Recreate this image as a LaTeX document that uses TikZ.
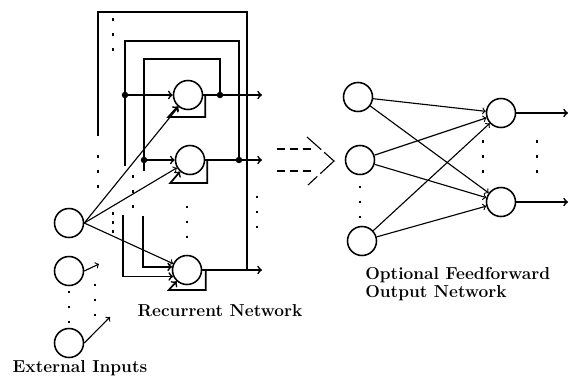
\documentclass[tikz,border=0pt]{standalone}
\usepackage{xcolor}
\begin{document}
\begin{tikzpicture}[x=0.025cm, y=-0.025cm, inner sep=0pt]
		\tikzstyle{every node}=[font=\fontsize{12.3}{12.8}\selectfont\bfseries, align=left]
		\tikzstyle{neuron}=[circle, draw, line width=1.1pt, minimum size=0.725cm]
		\tikzstyle{wire}=[line width=1.2pt]
		\tikzstyle{link}=[thick]
		\tikzstyle{ellip}=[line width=1.8pt, dash pattern=on 1.8pt off 8.87pt]
		\tikzstyle{tightellip}=[line width=1.8pt, dash pattern=on 1.8pt off 4.6pt]
		\useasboundingbox (0,0) rectangle (573,377);

			\node[neuron] (in1) at (69,223) {};
			\node[neuron] (in2) at (69,271) {};
			\node[neuron] (in3) at (69,343) {};
			\node[neuron] (rn1) at (188,95) {};
			\node[neuron] (rn2) at (190,160) {};
			\node[neuron] (rn3) at (187,270) {};
			\node[neuron] (hid1) at (358,97) {};
			\node[neuron] (hid2) at (360,160) {};
			\node[neuron] (hid3) at (362,241) {};
			\node[neuron] (out1) at (501,113) {};
			\node[neuron] (out2) at (501,202) {};

			\coordinate (fb1) at (220,95);
			\coordinate (fb2) at (239,160);
			\coordinate (fb3) at (247,270);
			\coordinate (tap1) at (144,160);
			\coordinate (tap2) at (125,95);
			\coordinate (tap3) at (98,136);
			\coordinate (low1) at (123,215);
			\coordinate (low2) at (143,216);
			\coordinate (y1) at (262,95);
			\coordinate (y2) at (262,160);
			\coordinate (y3) at (262,270);

			\draw[wire, ->] (rn1) -- (y1);
			\draw[wire, ->] (rn2) -- (y2);
			\draw[wire, ->] (rn3) -- (y3);
			\draw[wire] (fb1) -- ++(0,-36) -| (tap1) -- ++(0,11);
			\draw[wire] (fb2) -- ++(0,-119) -| (tap2) -- ++(0,71);
			\draw[wire] (fb3) -- ++(0,-258) -| (tap3);
			\draw[wire, ->] (tap2) -- (rn1);
			\draw[wire, ->] (tap1) -- (rn2);
			\draw[wire, ->] (low1) |- (rn3.205);
			\draw[wire, ->] (low2) |- (rn3.168);
			\draw[wire, ->] (rn1.east) -- ++(2,0) -- ++(0,22) -- ++(-37,0) -- (rn1);
			\draw[wire, ->] (rn2.east) -- ++(2,0) -- ++(0,23) -- ++(-37,0) -- (rn2);
			\draw[wire, ->] (rn3.east) -- ++(3.5,0) -- ++(0,20) -- ++(-37,0) -- (rn3);
			\fill (fb1) circle (2.3pt);
			\fill (fb2) circle (2.3pt);
			\fill (tap1) circle (2.3pt);
			\fill (tap2) circle (2.3pt);

			\draw[link, ->] (in1.east) -- (rn1);
			\draw[link, ->] (in1.east) -- (rn2);
			\draw[link, ->] (in1.east) -- (rn3);
			\coordinate (a2) at (99,264);
			\coordinate (a3) at (110,317);
			\draw[link, ->] (in2.east) -- (a2);
			\draw[link, ->] (in3.east) -- (a3);

			\draw[ellip] (98,155) -- (98,187.5);
			\draw[ellip] (113,18) -- (113,50.5);
			\draw[ellip] (133,175) -- (133,207.5);
			\draw[tightellip] (113,212) -- (113,232.5);
			\draw[ellip] (187,205.5) -- (187,238);
			\draw[ellip] (257,195.5) -- (257,228);
			\draw[ellip] (69,290.5) -- (69,323);
			\draw[ellip] (95,283.5) -- (95,316);
			\draw[ellip] (360,185.5) -- (360,218);
			\draw[ellip] (483,140) -- (483,172.5);
			\draw[ellip] (537,140) -- (537,172.5);

			\coordinate (ds1) at (277,149);
			\coordinate (de1) at (313,149);
			\coordinate (ds2) at (277,171);
			\coordinate (de2) at (313,171);
			\coordinate (chevtop) at (307,137);
			\coordinate (chevtip) at (334,161);
			\coordinate (chevbot) at (308,185);
			\draw[link, dash pattern=on 5.7pt off 3.5pt] (ds1) -- (de1);
			\draw[link, dash pattern=on 5.7pt off 3.5pt] (ds2) -- (de2);
			\draw[link, dash pattern=on 13.5pt off 2.8pt on 22.7pt off 2.8pt] (chevtop) -- (chevtip) -- (chevbot);

			\draw[link, ->] (hid1) -- (out1);
			\draw[link, ->] (hid1) -- (out2);
			\draw[link, ->] (hid2) -- (out1);
			\draw[link, ->] (hid2) -- (out2);
			\draw[link, ->] (hid3) -- (out1);
			\draw[link, ->] (hid3) -- (out2);
			\coordinate (z1) at (568,113);
			\coordinate (z2) at (568,202);
			\draw[wire, ->] (out1) -- (z1);
			\draw[wire, ->] (out2) -- (z2);

			\node (extlbl) at (80,368) {External Inputs};
			\node (reclbl) at (220,311) {Recurrent Network};
			\node[anchor=west] (outlbl) at (365,284) {Optional Feedforward\\Output Network};
		\end{tikzpicture}
\end{document}
